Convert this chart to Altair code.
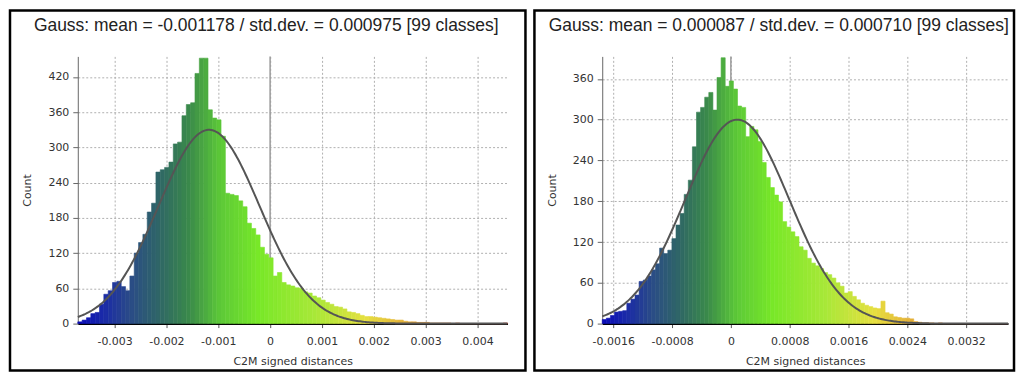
import altair as alt
import pandas as pd

# ---------------- data ----------------
left_title = "Gauss: mean = -0.001178 / std.dev. = 0.000975 [99 classes]"
right_title = "Gauss: mean = 0.000087 / std.dev. = 0.000710 [99 classes]"

left_range = [-0.00371, 0.00458]
right_range = [-0.00175, 0.00377]

left_counts = [3, 6, 10, 17, 19, 33, 50, 56, 70, 72,
               63, 56, 81, 120, 138, 152, 190, 205, 258, 262,
               266, 275, 306, 309, 354, 373, 376, 426, 452, 452,
               364, 350, 347, 319, 222, 220, 218, 209, 199, 171,
               162, 151, 130, 118, 112, 81, 87, 70, 66, 64,
               61, 60, 54, 52, 47, 44, 40, 36, 33, 29,
               28, 25, 20, 19, 17, 14, 12, 12, 11, 10,
               9, 8, 7, 6, 6, 4, 3, 3, 2, 2,
               2, 1, 1, 1, 1, 1, 0, 1, 0, 0,
               0, 0, 0, 0, 0, 0, 0, 0, 1]

right_counts = [6, 8, 12, 17, 18, 19, 30, 36, 42, 62,
                64, 70, 79, 88, 111, 103, 108, 125, 145, 162,
                190, 211, 260, 311, 318, 333, 340, 314, 362, 391,
                349, 357, 345, 320, 318, 275, 290, 285, 268, 237,
                215, 200, 189, 179, 150, 142, 135, 128, 113, 108,
                96, 89, 85, 81, 75, 72, 67, 60, 55, 45,
                47, 40, 35, 30, 27, 25, 23, 22, 33, 16,
                14, 10, 9, 8, 8, 7, 3, 2, 1, 1,
                1, 0, 1, 0, 0, 0, 0, 0, 0, 0,
                0, 0, 0, 0, 0, 0, 0, 0, 0]

left_mean, left_std, left_peak = -0.001178, 0.000975, 330
right_mean, right_std, right_peak = 0.000087, 0.000710, 300

left_xticks = [-0.003, -0.002, -0.001, 0, 0.001, 0.002, 0.003, 0.004]
right_xticks = [-0.0016, -0.0008, 0, 0.0008, 0.0016, 0.0024, 0.0032]
left_yticks = [0, 60, 120, 180, 240, 300, 360, 420]
right_yticks = [0, 60, 120, 180, 240, 300, 360]
left_ymax = 455
right_ymax = 393

x_title = "C2M signed distances"
y_title = "Count"

# ---------------- styling ----------------
color_stops = [0, 0.06, 0.12, 0.19, 0.26, 0.33, 0.42, 0.55, 0.67, 1.0]
color_vals = ['#0a0ab8', '#1a2aa8', '#2a4a88', '#2f6666', '#3a8a4a',
              '#5cc838', '#78e828', '#a8e838', '#e6e040', '#e03020']

PLOT_H = 268
TICK_FONT = "DejaVu Sans"
TITLE_FONT = "Liberation Sans"


def panel(counts, rng, mean, std, peak, ymax, xticks, yticks, width, title,
          title_x, bx1, bx2):
    n = len(counts)
    w = (rng[1] - rng[0]) / n
    df = pd.DataFrame({
        'x': [rng[0] + i * w for i in range(n)],
        'x2': [rng[0] + (i + 1) * w for i in range(n)],
        'count': counts,
        'base': [0] * n,
    })
    df['t'] = (df['x'] + w / 2 - rng[0]) / (rng[1] - rng[0])

    xs = alt.Scale(domain=rng, nice=False, zero=False)
    ys = alt.Scale(domain=[0, ymax], nice=False, zero=True)
    xaxis = alt.Axis(values=xticks, labelExpr="'' + datum.value",
                     domainColor='black', domainWidth=2,
                     tickColor='#555', tickSize=4, labelPadding=8,
                     titlePadding=9, grid=True)
    yaxis = alt.Axis(values=yticks, domainColor='#666', tickColor='#666',
                     tickSize=5, labelPadding=4, titlePadding=15, grid=True)
    X = alt.X('x:Q', scale=xs, title=x_title, axis=xaxis)
    Y = alt.Y('count:Q', scale=ys, title=y_title, axis=yaxis)
    cscale = alt.Scale(domain=color_stops, range=color_vals, interpolate='rgb')

    one = pd.DataFrame({'x': [0.0]})

    border = alt.Chart(one).mark_rect(
        fillOpacity=0, fill='white', stroke='black', strokeWidth=2.5
    ).encode(x=alt.value(bx1), x2=alt.value(bx2),
             y=alt.value(-46), y2=alt.value(PLOT_H + 47))

    ttl = alt.Chart(one).mark_text(
        font=TITLE_FONT, fontSize=17.5, color='#222', align='center',
        baseline='alphabetic'
    ).encode(x=alt.value(title_x), y=alt.value(-25), text=alt.value(title))

    zero_rule = alt.Chart(one).mark_rule(color='#9a9a9a', strokeWidth=1.5).encode(x=X)

    bars = alt.Chart(df).mark_rect(strokeWidth=0.6).encode(
        x=X,
        x2='x2:Q',
        y=Y,
        y2='base:Q',
        color=alt.Color('t:Q', legend=None, scale=cscale),
        stroke=alt.Stroke('t:Q', legend=None, scale=cscale),
    )

    step = (rng[1] - rng[0]) / 300
    curve = alt.Chart(alt.sequence(rng[0], rng[1] + step / 2, step, as_='x')).transform_calculate(
        count=f"{peak}*exp(-0.5*pow((datum.x-({mean}))/{std},2))"
    ).mark_line(color='#555555', strokeWidth=2).encode(x=X, y=Y)

    return alt.layer(border, zero_rule, bars, curve, ttl).properties(
        width=width, height=PLOT_H)


left = panel(left_counts, left_range, left_mean, left_std, left_peak, left_ymax,
             left_xticks, left_yticks, 431, left_title, 189, -68, 449)
right = panel(right_counts, right_range, right_mean, right_std, right_peak, right_ymax,
              right_xticks, right_yticks, 407, right_title, 177, -68, 413)

chart = alt.hconcat(left, right, spacing=5).resolve_scale(
    x='independent', y='independent', color='shared', stroke='shared'
).configure(padding=0).configure_view(stroke=None).configure_axis(
    labelFont=TICK_FONT, labelFontSize=11, labelColor='#333',
    titleFont=TICK_FONT, titleFontSize=11, titleFontWeight='normal', titleColor='#333',
    gridColor='#b0b0b0', gridDash=[2, 2], gridWidth=1,
)

chart.save("out.html", embed_options={"renderer": "svg", "actions": False})
